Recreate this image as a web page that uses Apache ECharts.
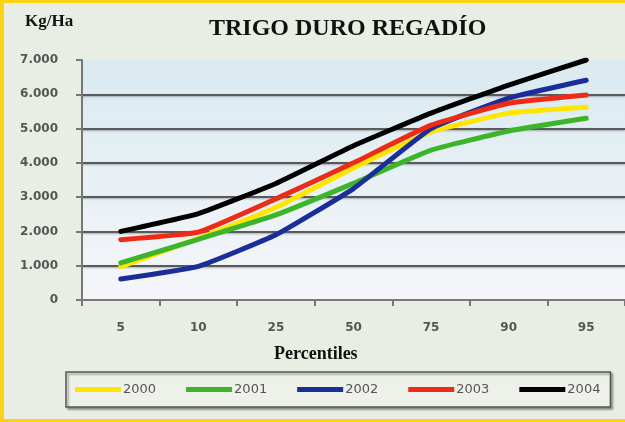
<!DOCTYPE html>
<html>
<head>
<meta charset="utf-8">
<script src="https://cdn.jsdelivr.net/npm/echarts@6/dist/echarts.min.js"></script>
<style>
  html, body { margin: 0; padding: 0; background: #e9eee5; }
  #chart { width: 625px; height: 422px; }
</style>
</head>
<body>
<div id="chart"></div>
<script>
// rendimiento trigo duro regadío por percentil
const percentiles = ["5", "10", "25", "50", "75", "90", "95"];
const years = ["2000", "2001", "2002", "2003", "2004"];
const y2000 = [970, 1800, 2700, 3850, 4900, 5450, 5620];
const y2001 = [1080, 1770, 2480, 3400, 4370, 4930, 5300];
const y2002 = [610, 980, 1900, 3250, 5000, 5890, 6410];
const y2003 = [1760, 1980, 2950, 4000, 5100, 5740, 5980];
const y2004 = [2000, 2520, 3400, 4500, 5450, 6270, 7000];
const colors = ["#ffe600", "#3db52a", "#1a2e98", "#ee2b16", "#000000"];

const chart = echarts.init(document.getElementById("chart"));

const mkSeries = (name, data, i) => ({
  name: name,
  type: "line",
  data: data,
  smooth: 0.12,
  symbol: "none",
  lineStyle: { color: colors[i], width: 5, cap: "round" },
  itemStyle: { color: colors[i] },
});

const option = {
  backgroundColor: "#e9eee5",
  animation: false,
  title: {
    text: "TRIGO DURO REGADÍO",
    left: 204,
    top: 12,
    textStyle: {
      fontFamily: "Liberation Serif",
      fontWeight: "bold",
      fontSize: 24,
      color: "#111",
    },
  },
  graphic: [
    {
      type: "text",
      left: 25,
      top: 13,
      style: {
        text: "Kg/Ha",
        font: "bold 17px 'Liberation Serif'",
        fill: "#111",
      },
    },
    {
      type: "text",
      left: 274,
      top: 345,
      style: {
        text: "Percentiles",
        font: "bold 18px 'Liberation Serif'",
        fill: "#111",
      },
    },
    // marco amarillo
    { type: "rect", left: 0, top: 0, shape: { width: 625, height: 3 }, style: { fill: "#fcd116" } },
    { type: "rect", left: 0, top: 0, shape: { width: 4, height: 422 }, style: { fill: "#fcd116" } },
    { type: "rect", left: 0, top: 419, shape: { width: 625, height: 3 }, style: { fill: "#fcd116" } },
  ],
  legend: {
    data: years,
    left: 66,
    top: 372,
    icon: "rect",
    itemWidth: 46,
    itemHeight: 5,
    itemGap: 30,
    padding: [11, 10, 11, 9],
    borderColor: "#555",
    borderWidth: 1.5,
    shadowColor: "rgba(0,0,0,0.35)",
    shadowBlur: 2,
    shadowOffsetX: 2,
    shadowOffsetY: 2,
    backgroundColor: "#eef1ea",
    textStyle: {
      fontFamily: "DejaVu Sans",
      fontSize: 13,
      color: "#555",
      padding: [0, 0, 0, -3],
    },
  },
  grid: {
    left: 82,
    right: -3,
    top: 60,
    bottom: 122,
    show: true,
    borderWidth: 0,
    backgroundColor: new echarts.graphic.LinearGradient(0, 0, 0, 1, [
      { offset: 0, color: "#d9eaf0" },
      { offset: 1, color: "#f6f6fa" },
    ]),
  },
  xAxis: {
    type: "category",
    data: percentiles,
    boundaryGap: true,
    axisLine: { lineStyle: { color: "#777", width: 2 } },
    axisTick: { show: true, length: 6, lineStyle: { color: "#777", width: 2 } },
    axisLabel: {
      margin: 22,
      fontFamily: "DejaVu Sans",
      fontWeight: "bold",
      fontSize: 12,
      color: "#555",
    },
  },
  yAxis: {
    type: "value",
    min: 0,
    max: 7000,
    interval: 1000,
    axisLine: { show: true, lineStyle: { color: "#777", width: 2 } },
    axisTick: { show: true, length: 6, lineStyle: { color: "#777", width: 2 } },
    axisLabel: {
      margin: 24,
      fontFamily: "DejaVu Sans",
      fontWeight: "bold",
      fontSize: 12,
      color: "#555",
      formatter: (v) => (v === 0 ? "0" : (v / 1000).toFixed(3)),
    },
    splitLine: {
      show: true,
      showMinLine: false,
      showMaxLine: false,
      lineStyle: {
        color: "#5a5a5a",
        width: 2,
        shadowColor: "rgba(0,0,0,0.3)",
        shadowBlur: 2,
        shadowOffsetY: 1,
      },
    },
  },
  series: [
    mkSeries("2000", y2000, 0),
    mkSeries("2001", y2001, 1),
    mkSeries("2002", y2002, 2),
    mkSeries("2003", y2003, 3),
    mkSeries("2004", y2004, 4),
  ],
};

chart.setOption(option);
</script>
</body>
</html>
